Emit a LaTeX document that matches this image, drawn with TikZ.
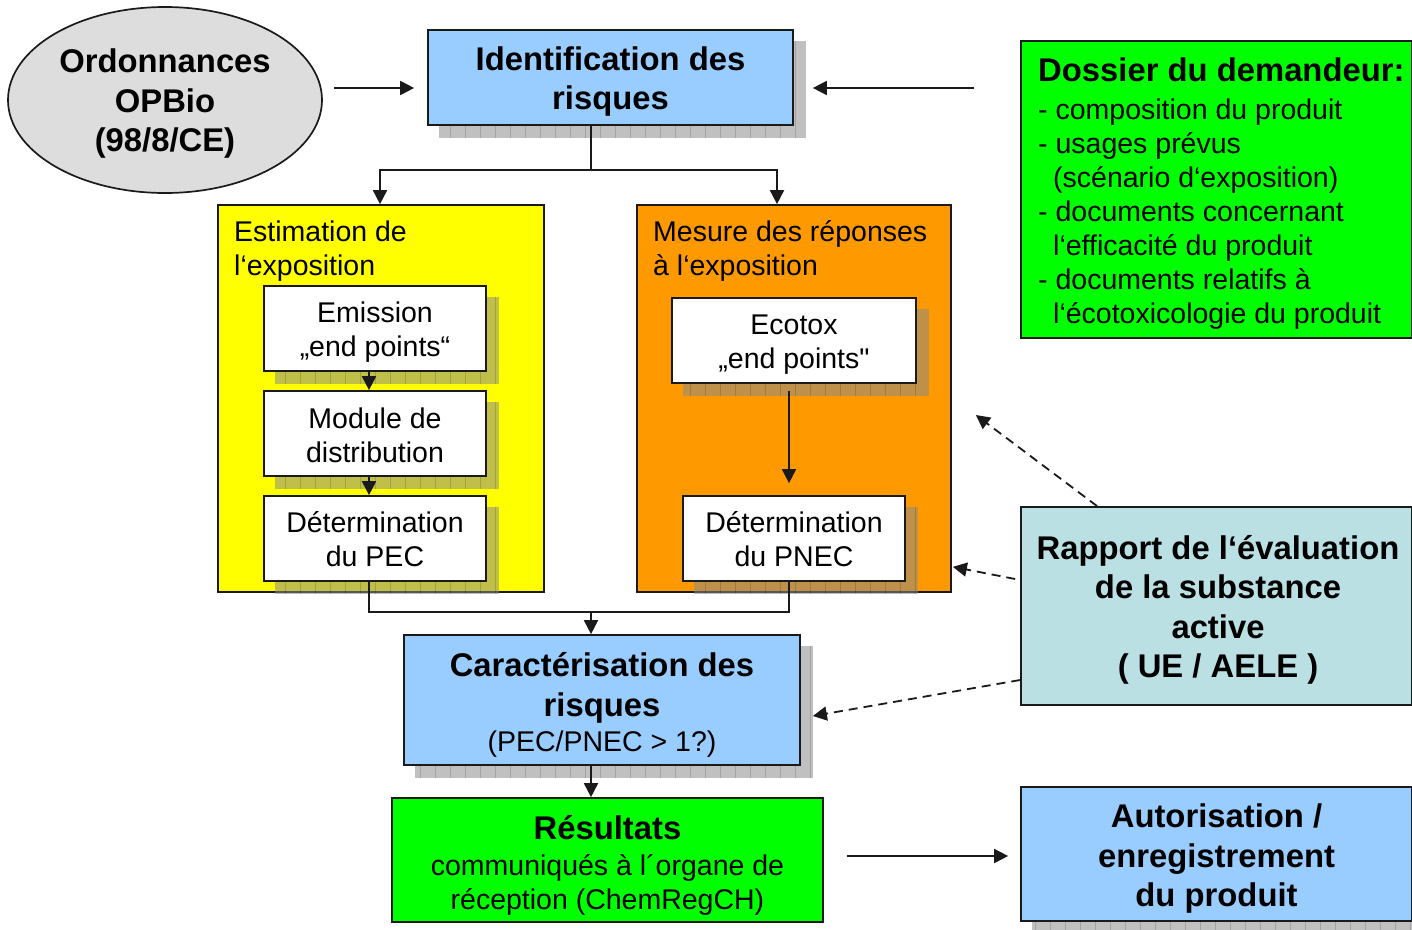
\documentclass[tikz,border=0pt]{standalone}
\usepackage{fontspec}
\newfontfamily\af{Liberation Sans}
\usetikzlibrary{arrows.meta,shapes.geometric,calc}
\pgfdeclarelayer{bg}\pgfdeclarelayer{shad}\pgfsetlayers{bg,shad,main}
\definecolor{cblue}{HTML}{99CCFF}
\definecolor{cgreen}{HTML}{00FF00}
\definecolor{cyellow}{HTML}{FFFF00}
\definecolor{corange}{HTML}{FF9900}
\definecolor{cteal}{HTML}{BBE0E3}
\definecolor{cgray}{HTML}{DDDDDD}
\definecolor{cline}{HTML}{1A1A1A}
\newcommand\shadowof[1]{%
  \begin{pgfonlayer}{shad}
    \path[fill=black!46,fill opacity=.54] ($(#1.south west)+(12,12)$) rectangle ($(#1.north east)+(12,12)$);
    \begin{scope}
      \clip ($(#1.south west)+(12,12)$) rectangle ($(#1.north east)+(12,12)$);
      \draw[black,draw opacity=.15,line width=1pt,step=15] ($(#1.south west)+(0,30)$) grid ($(#1.north east)+(30,0)$);
    \end{scope}
  \end{pgfonlayer}}
\begin{document}
\begin{tikzpicture}[x=1pt,y=-1pt,
  reg/.style={font=\af\fontsize{28.5}{34}\selectfont},
  bld/.style={font=\af\bfseries\fontsize{32.8}{39.5}\selectfont},
  box/.style={draw=cline,line width=1.7pt,inner sep=0pt},
  ctr/.style={inner sep=0pt,align=center},
  txt/.style={inner sep=0pt,align=left,anchor=west},
  arr/.style={draw=cline,line width=1.8pt,-{Triangle[length=14pt,width=14pt]}},
  dsh/.style={arr,dash pattern=on 9pt off 6pt},
  ln/.style={draw=cline,line width=1.8pt}]
\useasboundingbox (0,0) rectangle (1412,929);

% top row
\node[box,ellipse,fill=cgray,minimum width=314pt,minimum height=186pt] (ell) at (165,100) {};
\node[ctr,bld] (ellT) at ($(ell.center)+(0,4)$) {Ordonnances\\OPBio\\(98/8/CE)};
\node[box,fill=cblue,minimum width=365pt,minimum height=95pt] (ident) at (610.5,77.5) {};
\node[ctr,bld] (identT) at ($(ident.center)+(0,4)$) {Identification des\\risques};
\shadowof{ident}
\node[box,fill=cgreen,minimum width=391pt,minimum height=297pt] (dossier) at (1216.5,189.5) {};
\node[txt,reg] (dostxt) at (1038,194) {{\bfseries\fontsize{32.8}{38}\selectfont Dossier du demandeur:}\\[4pt]
- composition du produit\\
- usages prévus\\
\hspace*{15pt}(scénario d‘exposition)\\
- documents concernant\\
\hspace*{15pt}l‘efficacité du produit\\
- documents relatifs à\\
\hspace*{15pt}l‘écotoxicologie du produit};

% coloured frames
\begin{pgfonlayer}{bg}
\node[box,fill=cyellow,minimum width=326pt,minimum height=387pt] (yel) at (381,398.5) {};
\node[box,fill=corange,minimum width=314pt,minimum height=387pt] (ora) at (794,398.5) {};
\end{pgfonlayer}
\node[txt,reg] (yeltxt) at (234,251) {Estimation de\\l‘exposition};
\node[txt,reg] (oratxt) at (653,251) {Mesure des réponses\\à l‘exposition};

% inner boxes
\node[box,fill=white,minimum width=222pt,minimum height=85pt] (emit) at (375,328.5) {};
\node[ctr,reg] (emitT) at ($(emit.center)+(0,4)$) {Emission\\„end points“};
\shadowof{emit}
\node[box,fill=white,minimum width=222pt,minimum height=85pt] (modul) at (375,433.5) {};
\node[ctr,reg] (modulT) at ($(modul.center)+(0,1.5)$) {Module de\\distribution};
\shadowof{modul}
\node[box,fill=white,minimum width=222pt,minimum height=85pt] (pec) at (375,538.5) {};
\node[ctr,reg] (pecT) at ($(pec.center)+(0,1)$) {Détermination\\du PEC};
\shadowof{pec}
\node[box,fill=white,minimum width=244pt,minimum height=85pt] (ecotox) at (794,340.5) {};
\node[ctr,reg] (ecotoxT) at ($(ecotox.center)+(0,4)$) {Ecotox\\„end points"};
\shadowof{ecotox}
\node[box,fill=white,minimum width=222pt,minimum height=85pt] (pnec) at (794,538.5) {};
\node[ctr,reg] (pnecT) at ($(pnec.center)+(0,1)$) {Détermination\\du PNEC};
\shadowof{pnec}

% lower boxes
\node[box,fill=cblue,minimum width=396pt,minimum height=130pt] (carac) at (602,700) {};
\node[ctr,bld] (caracT) at ($(carac.center)+(0,5)$) {Caractérisation des\\risques\\[-4pt]{\mdseries\fontsize{28.5}{34}\selectfont (PEC/PNEC > 1?)}};
\shadowof{carac}
\node[box,fill=cgreen,minimum width=431pt,minimum height=124pt] (result) at (607.5,860) {};
\node[ctr,reg] (resultT) at ($(result.center)+(0,5)$) {{\bfseries\fontsize{32.8}{38}\selectfont Résultats}\\[2pt]communiqués à l´organe de\\réception (ChemRegCH)};
\node[box,fill=cblue,minimum width=391pt,minimum height=134pt] (autor) at (1216.5,854) {};
\node[ctr,bld] (autorT) at ($(autor.center)+(0,5)$) {Autorisation /\\enregistrement\\du produit};
\shadowof{autor}
\node[box,fill=cteal,minimum width=391pt,minimum height=198pt] (rapport) at (1216.5,606) {};
\node[ctr,bld] (rapportT) at ($(rapport.center)+(1.5,4)$) {Rapport de l‘évaluation\\de la substance\\active\\( UE / AELE )};

% connectors
\coordinate (fork) at (591,170);
\coordinate (join) at (591,612);
\draw[arr] ($(ell.east)+(11,-12)$) -- ($(ident.west)+(-13,10.5)$);
\draw[arr] ($(dossier.west |- ident.east)+(-46,10.5)$) -- ($(ident.east)+(19,10.5)$);
\draw[ln] (fork |- ident.south) -- (fork);
\draw[arr] (fork) -| ($(yel.north)+(-1,0)$);
\draw[arr] (fork) -| ($(ora.north)+(-17,0)$);
\draw[arr] ($(emit.south)+(-6,0)$) -- ($(modul.north)+(-6,0)$);
\draw[arr] ($(modul.south)+(-6,0)$) -- ($(pec.north)+(-6,0)$);
\draw[arr] ($(ecotox.south)+(-5,7)$) -- ($(pnec.north)+(-5,-12)$);
\draw[ln] ($(pec.south)+(-6,0)$) |- (join) -| ($(pnec.south)+(-5,0)$);
\draw[arr] (join) -- (carac.north -| join);
\draw[arr] (carac.south -| join) -- (result.north -| join);
\draw[arr] ($(result.east)+(23,-4)$) -- ($(autor.west)+(-12,2)$);
\draw[dsh] ($(rapport.north west)+(77,0)$) -- ($(ora.east)+(24,16.5)$);
\draw[dsh] ($(rapport.west)+(-5,-27)$) -- ($(ora.south east)+(1,-26)$);
\draw[dsh] ($(rapport.west)+(0,74)$) -- ($(carac.east)+(12,16)$);
\end{tikzpicture}
\end{document}
